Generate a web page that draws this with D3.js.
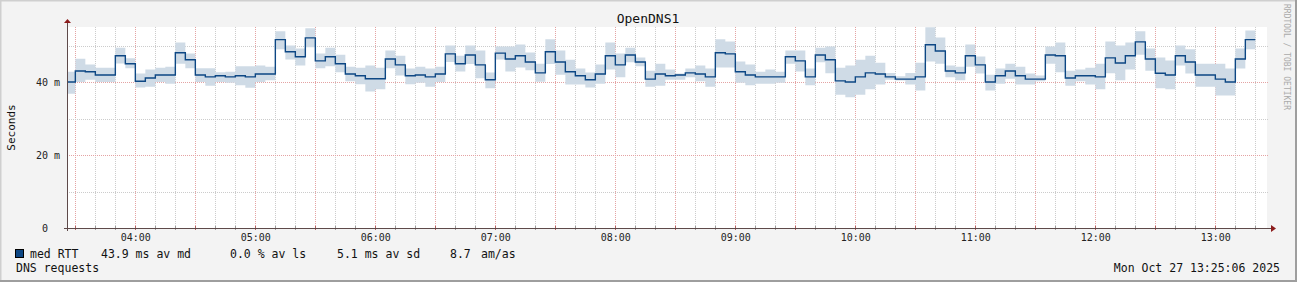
<!DOCTYPE html>
<html>
<head>
<meta charset="utf-8">
<script src="https://cdn.jsdelivr.net/npm/d3@7"></script>
<style>
  body { margin: 0; background: #f3f3f3; }
  text { font-family: "DejaVu Sans Mono", monospace; white-space: pre; }
</style>
</head>
<body>
<div id="chart"></div>
<script>
// smokeping style graph, 5 minute steps, values in ms
const title = "OpenDNS1";
const firstStep = "2025-10-27T03:25:00Z";
const stepMinutes = 5;

const median = [
  40.0, 43.0, 42.8, 41.9, 41.9, 47.2, 45.0, 40.2, 41.1, 41.9,
  41.9, 48.0, 46.1, 41.9, 41.4, 41.7, 41.4, 41.7, 41.4, 42.2,
  42.2, 51.6, 48.3, 46.9, 52.1, 45.8, 46.9, 45.0, 42.2, 41.7,
  40.9, 40.9, 46.3, 44.7, 41.7, 41.9, 41.4, 42.2, 47.7, 45.0,
  47.4, 44.7, 40.6, 47.9, 46.3, 47.2, 45.5, 42.5, 48.3, 45.5,
  42.8, 41.7, 40.6, 42.2, 47.2, 44.7, 47.4, 45.5, 40.8, 42.2,
  41.7, 41.9, 42.5, 42.2, 41.4, 48.0, 47.7, 42.8, 41.9, 41.4,
  41.4, 41.4, 46.9, 45.8, 41.4, 47.4, 46.1, 40.3, 40.0, 41.4,
  42.5, 42.2, 41.4, 40.8, 40.8, 41.4, 50.2, 48.5, 43.0, 42.5,
  47.2, 44.7, 40.0, 41.7, 43.0, 41.7, 40.8, 40.8, 47.4, 47.2,
  41.1, 41.7, 41.7, 41.4, 46.6, 45.2, 47.2, 51.0, 46.3, 42.4,
  41.9, 47.2, 45.5, 41.9, 41.9, 40.8, 40.0, 46.3, 51.6
];
const high = [
  42.8, 46.4, 44.8, 43.9, 43.9, 49.4, 46.5, 42.3, 43.4, 43.9,
  44.2, 50.8, 47.8, 43.8, 43.8, 42.7, 42.8, 44.3, 44.3, 44.5,
  44.2, 53.9, 50.0, 49.2, 54.7, 47.8, 49.4, 47.5, 44.2, 43.9,
  44.5, 43.9, 48.6, 47.2, 43.7, 44.2, 43.7, 44.2, 50.0, 47.2,
  50.0, 48.6, 42.6, 49.7, 49.7, 50.3, 48.1, 45.0, 51.7, 48.6,
  46.1, 43.7, 42.6, 44.8, 50.8, 47.8, 49.4, 46.7, 43.1, 45.0,
  43.4, 42.3, 43.7, 44.5, 43.7, 51.7, 51.1, 45.6, 44.8, 42.8,
  43.4, 42.8, 48.6, 48.6, 43.7, 49.4, 49.7, 43.9, 44.5, 46.1,
  47.2, 45.3, 42.5, 41.6, 42.5, 45.3, 55.0, 52.2, 44.5, 44.2,
  50.3, 47.0, 42.0, 43.7, 45.0, 44.2, 42.3, 41.8, 49.7, 50.8,
  43.1, 43.4, 43.9, 45.0, 51.1, 50.0, 50.8, 53.9, 49.2, 46.7,
  45.9, 50.0, 49.0, 45.0, 45.0, 45.0, 43.7, 49.2, 54.1
];
const low = [
  36.8, 40.0, 40.6, 40.0, 40.0, 45.1, 43.8, 38.5, 38.7, 40.0,
  39.5, 45.0, 43.8, 40.0, 39.0, 40.0, 39.8, 39.1, 38.4, 40.0,
  40.5, 49.0, 46.2, 44.5, 49.5, 43.8, 44.3, 42.7, 40.2, 39.4,
  37.4, 38.0, 43.8, 41.8, 39.4, 39.8, 38.7, 40.0, 45.5, 42.9,
  44.9, 41.0, 38.3, 46.2, 42.9, 44.0, 43.2, 40.1, 44.9, 42.0,
  39.3, 39.3, 38.5, 39.5, 43.4, 41.3, 45.4, 44.3, 38.7, 39.0,
  40.6, 40.6, 41.3, 40.2, 38.7, 44.0, 44.0, 39.8, 39.1, 39.5,
  39.5, 39.8, 45.0, 42.9, 39.1, 45.4, 42.4, 36.5, 35.8, 36.5,
  38.0, 39.3, 40.6, 40.4, 39.3, 37.7, 45.6, 45.0, 41.3, 40.5,
  44.2, 42.3, 37.7, 39.5, 40.9, 39.3, 39.3, 40.2, 45.0, 42.7,
  39.0, 40.2, 39.3, 38.0, 42.4, 40.5, 43.4, 47.5, 43.1, 38.3,
  38.0, 44.5, 42.3, 38.7, 38.7, 36.3, 36.3, 43.7, 49.0
];

const yTicks = [0, 20, 40];
const yTickLabels = ["0  ", "20 m", "40 m"];
const legendItems = [
  { text: "med RTT", x: 30 },
  { text: "43.9 ms av md", x: 101 },
  { text: "0.0 % av ls", x: 230 },
  { text: "5.1 ms av sd", x: 337 },
  { text: "8.7", x: 450 },
  { text: "am/as", x: 481 }
];
const comment = "DNS requests";
const stamp = "Mon Oct 27 13:25:06 2025";

const W = 1297, H = 282;
const plot = { left: 67, right: 1267, top: 27, bottom: 228 };

const svg = d3.select("#chart").append("svg")
  .attr("width", W).attr("height", H);

// frame
svg.append("rect").attr("width", W).attr("height", H).attr("fill", "#f3f3f3");
svg.append("path").attr("d", `M0.5,${H} V0.5 H${W}`).attr("stroke", "#cfcfcf").attr("stroke-width", 2).attr("fill", "none");
svg.append("path").attr("d", `M0,${H - 1} H${W - 1} V0`).attr("stroke", "#9e9e9e").attr("stroke-width", 2).attr("fill", "none");

const t0 = new Date("2025-10-27T03:25:50Z");
const t1 = new Date("2025-10-27T13:25:50Z");
const x = d3.scaleUtc().domain([t0, t1]).range([plot.left, plot.right]);
const y = d3.scaleLinear().domain([0, 55.07]).range([plot.bottom, plot.top]);

const start = new Date(firstStep);
const rows = median.map((m, i) => ({
  t: d3.utcMinute.offset(start, i * stepMinutes), m: m, lo: low[i], hi: high[i]
}));
// closing point so the last step gets its width
const last = rows[rows.length - 1];
rows.push({ t: d3.utcMinute.offset(last.t, stepMinutes), m: last.m, lo: last.lo, hi: last.hi });

svg.append("rect")
  .attr("x", plot.left).attr("y", plot.top)
  .attr("width", plot.right - plot.left).attr("height", plot.bottom - plot.top)
  .attr("fill", "#ffffff");

svg.append("clipPath").attr("id", "clip").append("rect")
  .attr("x", plot.left).attr("y", plot.top)
  .attr("width", plot.right - plot.left).attr("height", plot.bottom - plot.top);

// grid
const minorX = d3.utcMinute.every(10).range(t0, t1);
svg.append("g").selectAll("line").data(minorX).join("line")
  .attr("x1", d => Math.round(x(d)) + 0.5).attr("x2", d => Math.round(x(d)) + 0.5)
  .attr("y1", plot.top).attr("y2", plot.bottom)
  .attr("stroke", d => d.getUTCMinutes() % 30 === 0 ? "#e4a3a3" : "#cccccc")
  .attr("stroke-dasharray", "1,1");

const gridY = d3.range(10, 60, 10);
svg.append("g").selectAll("line").data(gridY).join("line")
  .attr("x1", plot.left).attr("x2", plot.right + 2)
  .attr("y1", d => Math.round(y(d)) + 0.5).attr("y2", d => Math.round(y(d)) + 0.5)
  .attr("stroke", d => d % 20 === 0 ? "#e4a3a3" : "#cccccc")
  .attr("stroke-dasharray", "1,1");

// band + median
const band = d3.area()
  .x(d => x(d.t)).y0(d => y(d.lo)).y1(d => y(d.hi))
  .curve(d3.curveStepAfter);
const medLine = d3.line()
  .x(d => x(d.t)).y(d => y(d.m))
  .curve(d3.curveStepAfter);

const g = svg.append("g").attr("clip-path", "url(#clip)");
g.append("path").attr("d", band(rows)).attr("fill", "#cfdbe6");
g.append("path").attr("d", medLine(rows))
  .attr("fill", "none").attr("stroke", "#0d4784").attr("stroke-width", 1.4);

// axes
const xAxis = d3.axisBottom(x)
  .ticks(d3.utcHour.every(1))
  .tickFormat(d3.utcFormat("%H:%M"))
  .tickSize(0).tickPadding(6);
const gx = svg.append("g").attr("transform", `translate(0,${plot.bottom})`).call(xAxis);
gx.select(".domain").remove();
gx.selectAll("text").attr("font-size", 10).attr("fill", "#222").attr("font-family", "DejaVu Sans Mono");

const yAxis = d3.axisLeft(y)
  .tickValues(yTicks)
  .tickFormat((d, i) => yTickLabels[i])
  .tickSize(0).tickPadding(7);
const gy = svg.append("g").attr("transform", `translate(${plot.left},0)`).call(yAxis);
gy.select(".domain").remove();
gy.selectAll("text").attr("font-size", 10).attr("fill", "#222").attr("font-family", "DejaVu Sans Mono");

// small ticks on the time axis
svg.append("g").selectAll("line").data(minorX).join("line")
  .attr("x1", d => Math.round(x(d)) + 0.5).attr("x2", d => Math.round(x(d)) + 0.5)
  .attr("y1", plot.bottom - 2).attr("y2", plot.bottom + 2)
  .attr("stroke", d => d.getUTCMinutes() % 30 === 0 ? "#b06060" : "#999");

svg.append("line")
  .attr("x1", plot.left - 3).attr("x2", plot.right + 4)
  .attr("y1", plot.bottom + 0.5).attr("y2", plot.bottom + 0.5)
  .attr("stroke", "#5e4a4a");
svg.append("line")
  .attr("x1", plot.left + 0.5).attr("x2", plot.left + 0.5)
  .attr("y1", plot.bottom + 3).attr("y2", plot.top - 4)
  .attr("stroke", "#5e4a4a");
svg.append("path")
  .attr("d", `M${plot.left - 3},${plot.top - 4} L${plot.left + 4},${plot.top - 4} L${plot.left + 0.5},${plot.top - 8} Z`)
  .attr("fill", "#8c1c1c");
svg.append("path")
  .attr("d", `M${plot.right + 4},${plot.bottom - 3} L${plot.right + 4},${plot.bottom + 4} L${plot.right + 9},${plot.bottom + 0.5} Z`)
  .attr("fill", "#8c1c1c");

// texts
svg.append("text")
  .attr("x", 648).attr("y", 23)
  .attr("text-anchor", "middle").attr("font-size", 13).attr("fill", "#111")
  .text(title);

svg.append("text")
  .attr("transform", `translate(15,${(plot.top + plot.bottom) / 2}) rotate(-90)`)
  .attr("text-anchor", "middle").attr("font-size", 11).attr("fill", "#111")
  .text("Seconds");

svg.append("text")
  .attr("transform", "translate(1284,4) rotate(90)")
  .attr("font-size", 8).attr("fill", "#aaaaaa")
  .text("RRDTOOL / TOBI OETIKER");

svg.append("rect")
  .attr("x", 15.5).attr("y", 249.5).attr("width", 8).attr("height", 8)
  .attr("fill", "#0d4784").attr("stroke", "#000");

svg.append("g").selectAll("text").data(legendItems).join("text")
  .attr("x", d => d.x).attr("y", 258)
  .attr("font-size", 11.5).attr("fill", "#111")
  .text(d => d.text);

svg.append("text")
  .attr("x", 16).attr("y", 272)
  .attr("font-size", 11.5).attr("fill", "#111")
  .text(comment);

svg.append("text")
  .attr("x", 1280).attr("y", 272).attr("text-anchor", "end")
  .attr("font-size", 11.5).attr("fill", "#111")
  .text(stamp);
</script>
</body>
</html>
